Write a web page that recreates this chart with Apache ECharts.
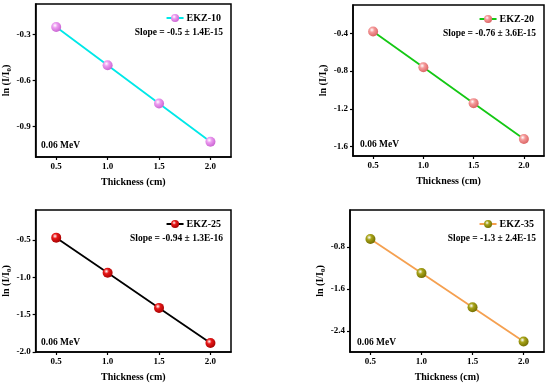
<!DOCTYPE html>
<html>
<head>
<meta charset="utf-8">
<script src="https://cdn.jsdelivr.net/npm/echarts@6/dist/echarts.min.js"></script>
<style>html,body{margin:0;padding:0;background:#fff;}#c{width:550px;height:383px;}</style>
</head>
<body>
<div id="c"></div>
<script>
const thickness = [0.5, 1.0, 1.5, 2.0];
const ekz10 = [-0.25, -0.50, -0.75, -1.00];
const ekz20 = [-0.38, -0.76, -1.14, -1.52];
const ekz25 = [-0.47, -0.94, -1.41, -1.88];
const ekz35 = [-0.65, -1.30, -1.95, -2.60];
const names = ['EKZ-10', 'EKZ-20', 'EKZ-25', 'EKZ-35'];
const slopes = ['Slope = -0.5 \u00b1 1.4E-15', 'Slope = -0.76 \u00b1 3.6E-15', 'Slope = -0.94 \u00b1 1.3E-16', 'Slope = -1.3 \u00b1 2.4E-15'];
const energyLabel = '0.06 MeV';
const xTicks = [0.5, 1.0, 1.5, 2.0];
const yTicks10 = [-0.9, -0.6, -0.3];
const yTicks20 = [-1.6, -1.2, -0.8, -0.4];
const yTicks25 = [-2.0, -1.5, -1.0, -0.5];
const yTicks35 = [-2.4, -1.6, -0.8];

const seriesData = [ekz10, ekz20, ekz25, ekz35];
const yTickSets = [yTicks10, yTicks20, yTicks25, yTicks35];
const yRanges = [[-1.1, -0.1], [-1.7, -0.1], [-2.0, -0.1], [-2.8, -0.1]];
const lineColors = ['#00e8e8', '#14c814', '#000000', '#f5a050'];
const markerColors = [['#ffffff', '#ec9cf0', '#c860d0'], ['#ffffff', '#f59a9a', '#d86060'], ['#ffffff', '#e81818', '#a00000'], ['#ffffff', '#a8a418', '#6e6a00']];
const grids = [
  {left: 34, width: 197, top: 4, height: 153},
  {left: 353, width: 191, top: 5, height: 151},
  {left: 34, width: 197, top: 210, height: 144},
  {left: 350, width: 194, top: 210, height: 144}
];
const yNameGaps = [21, 23, 22, 22];
const FONT = 'Liberation Serif';

function grad(c) {
  return {type: 'radial', x: 0.38, y: 0.35, r: 0.7,
    colorStops: [{offset: 0, color: c[0]}, {offset: 0.35, color: c[1]}, {offset: 1, color: c[2]}]};
}

const option = {
  animation: false,
  backgroundColor: '#fff',
  grid: grids.map(g => Object.assign({show: true, borderColor: '#000', borderWidth: 1.5, backgroundColor: 'transparent', containLabel: false}, g)),
  xAxis: grids.map((g, i) => ({
    gridIndex: i, type: 'value', min: 0.3, max: 2.2,
    name: 'Thickness (cm)', nameLocation: 'middle', nameGap: 20,
    nameTextStyle: {fontFamily: FONT, fontWeight: 'bold', fontSize: 10, color: '#000'},
    axisLine: {show: true, lineStyle: {color: '#000', width: 1.5}},
    axisTick: {show: true, inside: false, length: 3, customValues: xTicks, lineStyle: {color: '#000', width: 1.2}},
    axisLabel: {customValues: xTicks, formatter: v => v.toFixed(1), fontFamily: FONT, fontWeight: 'bold', fontSize: 9, color: '#000', margin: 5},
    splitLine: {show: false}
  })),
  yAxis: grids.map((g, i) => ({
    gridIndex: i, type: 'value', min: yRanges[i][0], max: yRanges[i][1],
    name: 'ln (I/I{s|0})', nameLocation: 'middle', nameGap: yNameGaps[i],
    nameTextStyle: {fontFamily: FONT, fontWeight: 'bold', fontSize: 10, color: '#000',
      rich: {s: {fontFamily: FONT, fontWeight: 'bold', fontSize: 7, color: '#000', verticalAlign: 'bottom', padding: [6, 0, 0, 0]}}},
    axisLine: {show: true, lineStyle: {color: '#000', width: 1.5}},
    axisTick: {show: true, inside: false, length: 3, customValues: yTickSets[i], lineStyle: {color: '#000', width: 1.2}},
    axisLabel: {customValues: yTickSets[i], formatter: v => v.toFixed(1), fontFamily: FONT, fontWeight: 'bold', fontSize: 9, color: '#000', margin: 5},
    splitLine: {show: false}
  })),
  legend: grids.map((g, i) => ({
    data: [names[i]], selectedMode: false, padding: 0,
    right: 550 - (g.left + g.width) + 10, top: g.top + 9,
    itemWidth: 17, itemHeight: 10, itemGap: 2,
    textStyle: {fontFamily: FONT, fontWeight: 'bold', fontSize: 10, color: '#000', padding: [0, 0, 0, -2]}
  })),
  series: seriesData.map((d, i) => ({
    name: names[i], type: 'line', xAxisIndex: i, yAxisIndex: i,
    data: thickness.map((t, k) => [t, d[k]]),
    symbol: 'circle', symbolSize: 10,
    lineStyle: {color: lineColors[i], width: 1.8},
    itemStyle: {color: grad(markerColors[i]), borderWidth: 0},
    z: 3
  })),
  graphic: grids.flatMap((g, i) => [
    {type: 'text', right: 550 - (g.left + g.width) + 8, top: g.top + 24,
      style: {text: slopes[i], font: 'bold 9.5px "Liberation Serif"', fill: '#000', textAlign: 'right'}},
    {type: 'text', left: g.left + 7, top: g.top + g.height - 16,
      style: {text: energyLabel, font: 'bold 9.5px "Liberation Serif"', fill: '#000'}}
  ])
};

const chart = echarts.init(document.getElementById('c'), null, {renderer: 'canvas'});
chart.setOption(option);
</script>
</body>
</html>
